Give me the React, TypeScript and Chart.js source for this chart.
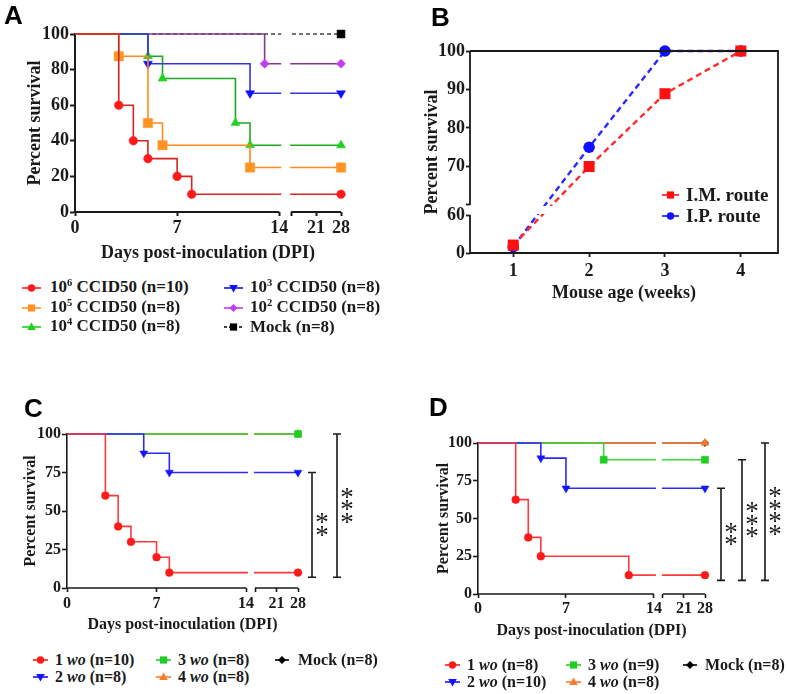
import React, { useEffect, useRef } from 'react';
import { Chart, registerables } from 'chart.js';
Chart.register(...registerables);

const SERIF = '"Liberation Serif", "Times New Roman", serif';
const SANS = '"Liberation Sans", Arial, sans-serif';
const INK = '#1a1a1a';

// ---------------- Panel A data (days post-inoculation, percent survival) ----------------
const A_DAYS_1E6 = [0, 3, 4, 5, 7, 8, 28];
const A_SURV_1E6 = [100, 60, 40, 30, 20, 10, 10];
const A_DAYS_1E5 = [0, 3, 5, 6, 12, 28];
const A_SURV_1E5 = [100, 87.5, 50, 37.5, 25, 25];
const A_DAYS_1E4 = [0, 5, 6, 11, 12, 28];
const A_SURV_1E4 = [100, 87.5, 75, 50, 37.5, 37.5];
const A_DAYS_1E3 = [0, 5, 12, 28];
const A_SURV_1E3 = [100, 83.3, 66.7, 66.7];
const A_DAYS_1E2 = [0, 13, 28];
const A_SURV_1E2 = [100, 83.3, 83.3];
const A_DAYS_MOCK = [0, 28];
const A_SURV_MOCK = [100, 100];
const A_Y_TICKS = [0, 20, 40, 60, 80, 100];

// ---------------- Panel B data ----------------
const B_WEEKS = [1, 2, 3, 4];
const B_IM = [12.5, 70, 88.9, 100];
const B_IP = [10, 75, 100, 100];
const B_Y_TICKS = [0, 60, 70, 80, 90, 100];

// ---------------- Panel C data ----------------
const C_DAYS_1WO = [0, 3, 4, 5, 7, 8, 28];
const C_SURV_1WO = [100, 60, 40, 30, 20, 10, 10];
const C_DAYS_2WO = [0, 6, 8, 28];
const C_SURV_2WO = [100, 87.5, 75, 75];
const C_DAYS_3WO = [0, 28];
const C_SURV_3WO = [100, 100];
const C_DAYS_4WO = [0, 28];
const C_SURV_4WO = [100, 100];
const C_DAYS_MOCK = [0, 28];
const C_SURV_MOCK = [100, 100];
const C_SIG_TOP = [75, 100];
const C_SIG_BOTTOM = [7, 7];
const C_SIG_LABEL = ['**', '***'];

// ---------------- Panel D data ----------------
const D_DAYS_1WO = [0, 3, 4, 5, 12, 28];
const D_SURV_1WO = [100, 62.5, 37.5, 25, 12.5, 12.5];
const D_DAYS_2WO = [0, 5, 7, 28];
const D_SURV_2WO = [100, 90, 70, 70];
const D_DAYS_3WO = [0, 10, 28];
const D_SURV_3WO = [100, 88.9, 88.9];
const D_DAYS_4WO = [0, 28];
const D_SURV_4WO = [100, 100];
const D_DAYS_MOCK = [0, 28];
const D_SURV_MOCK = [100, 100];
const D_SIG_TOP = [70, 88.9, 100];
const D_SIG_BOTTOM = [9, 9, 9];
const D_SIG_LABEL = ['**', '***', '****'];

const CD_Y_TICKS = [0, 25, 50, 75, 100];
const DPI_TICKS = [0, 7, 14, 21, 28];

const C_LABELS = ['1 wo (n=10)', '2 wo (n=8)', '3 wo (n=8)', '4 wo (n=8)', 'Mock (n=8)'];
const D_LABELS = ['1 wo (n=8)', '2 wo (n=10)', '3 wo (n=9)', '4 wo (n=8)', 'Mock (n=8)'];

type Box = { left: number; top: number; w: number; h: number };
type Area = { l: number; r: number; t: number; b: number };
type SeriesDef = {
  days: number[]; surv: number[]; line: string; point: string; style: string;
  rot?: number; r: number; dash?: number[]; width?: number;
};
type KMPanel = {
  canvas: Box; area: Area; series: SeriesDef[]; yTicks: number[];
  gap: number; s2: number; tickSize: number; titleSize: number;
  xPad: number; xTitlePad: number; yTitlePad: number; axisW: number; tickLen: number;
  sigTop?: number[]; sigBottom?: number[]; sigLabel?: string[]; sigOffset?: number[];
};

function kmConfig(p: KMPanel): any {
  const T = (d: number) => (d <= 14 ? d : 14 + p.gap + (d - 14) * p.s2);
  const xTickVals = [DPI_TICKS[0], DPI_TICKS[1], DPI_TICKS[2], 14 + p.gap, T(DPI_TICKS[3]), T(DPI_TICKS[4])];
  const xTickLabels = ['0', '7', '14', '', '21', '28'];
  const yw = p.area.l - p.canvas.left;
  const xh = p.canvas.top + p.canvas.h - p.area.b;
  const datasets = p.series.map((s) => ({
    data: s.days.map((d, i) => ({ x: T(d), y: s.surv[i] })),
    stepped: 'before',
    borderColor: s.line,
    borderWidth: s.width ?? 1.6,
    borderDash: s.dash ?? [],
    pointStyle: s.style,
    rotation: s.rot ?? 0,
    pointRadius: (c: any) => (c.dataIndex === 0 ? 0 : s.r),
    pointBackgroundColor: s.point,
    pointBorderColor: s.point,
    pointBorderWidth: 0.5,
    fill: false,
    clip: false,
  }));
  const extras = {
    id: 'kmExtras',
    afterDatasetsDraw(chart: any) {
      const ctx = chart.ctx;
      const xs = chart.scales.x;
      const ys = chart.scales.y;
      const ca = chart.chartArea;
      const x14 = xs.getPixelForValue(14);
      const x14b = xs.getPixelForValue(14 + p.gap);
      ctx.save();
      ctx.fillStyle = '#fff';
      ctx.fillRect(x14 + 2, ca.top - 8, x14b - x14 - 3, ca.bottom - ca.top + 5);
      ctx.strokeStyle = INK;
      ctx.lineWidth = p.axisW;
      ctx.beginPath();
      ctx.moveTo(ca.left - p.axisW / 2, ca.bottom);
      ctx.lineTo(x14, ca.bottom);
      ctx.moveTo(x14b, ca.bottom);
      ctx.lineTo(xs.getPixelForValue(T(28)), ca.bottom);
      ctx.stroke();
      if (p.sigTop && p.sigBottom && p.sigLabel && p.sigOffset) {
        ctx.font = `27px ${SERIF}`;
        ctx.fillStyle = INK;
        ctx.textAlign = 'center';
        ctx.textBaseline = 'alphabetic';
        const m = ctx.measureText('*');
        const off = (m.actualBoundingBoxAscent - m.actualBoundingBoxDescent) / 2;
        p.sigTop.forEach((top, i) => {
          const x = ca.right + p.sigOffset![i];
          const y1 = ys.getPixelForValue(top);
          const y2 = ys.getPixelForValue(p.sigBottom![i]);
          ctx.lineWidth = 1.6;
          ctx.beginPath();
          ctx.moveTo(x, y1); ctx.lineTo(x, y2);
          ctx.moveTo(x - 4, y1); ctx.lineTo(x + 4, y1);
          ctx.moveTo(x - 4, y2); ctx.lineTo(x + 4, y2);
          ctx.stroke();
          const n = p.sigLabel![i].length;
          const mid = (y1 + y2) / 2;
          for (let k = 0; k < n; k++) {
            const cy = mid + (k - (n - 1) / 2) * 12.5;
            ctx.fillText('*', x + 10, cy + off);
          }
        });
      }
      ctx.restore();
    },
  };
  const tickFont = { family: SERIF, size: p.tickSize, weight: 'bold' };
  const titleFont = { family: SERIF, size: p.titleSize, weight: 'bold' };
  return {
    type: 'line',
    data: { datasets },
    plugins: [extras],
    options: {
      animation: false,
      responsive: false,
      events: [],
      layout: {
        padding: {
          left: 0,
          top: p.area.t - p.canvas.top,
          right: p.canvas.left + p.canvas.w - p.area.r,
          bottom: 0,
        },
      },
      plugins: { legend: { display: false }, tooltip: { enabled: false } },
      scales: {
        x: {
          type: 'linear',
          min: 0,
          max: T(28),
          afterFit: (s: any) => { s.height = xh; },
          afterBuildTicks: (s: any) => { s.ticks = xTickVals.map((v) => ({ value: v })); },
          ticks: {
            autoSkip: false, maxRotation: 0, padding: p.xPad, color: INK, font: tickFont,
            callback: (_v: any, i: number) => xTickLabels[i],
          },
          grid: { drawOnChartArea: false, drawTicks: true, tickLength: p.tickLen, tickWidth: p.axisW, tickColor: INK },
          border: { display: false },
          title: { display: true, text: 'Days post-inoculation (DPI)', color: INK, font: titleFont, padding: { top: 0, bottom: p.xTitlePad } },
        },
        y: {
          type: 'linear',
          min: 0,
          max: 100,
          afterFit: (s: any) => { s.width = yw; },
          afterBuildTicks: (s: any) => { s.ticks = p.yTicks.map((v) => ({ value: v })); },
          ticks: { padding: 1, color: INK, font: tickFont },
          grid: { drawOnChartArea: false, drawTicks: true, tickLength: 5, tickWidth: p.axisW, tickColor: INK },
          border: { display: true, color: INK, width: p.axisW },
          title: { display: true, text: 'Percent survival', color: INK, font: titleFont, padding: { top: p.yTitlePad, bottom: 0 } },
        },
      },
    },
  };
}

const B_LOW = 0.1645;
const B_GAP = 2.6;
const TB = (v: number) => (v <= 60 ? v * B_LOW : 60 * B_LOW + B_GAP + (v - 60));

function bConfig(): any {
  const canvas = { left: 390, top: 0, w: 397, h: 310 };
  const area = { l: 470, r: 778, t: 51, b: 253 };
  const yVals = [TB(B_Y_TICKS[0]), TB(B_Y_TICKS[1]), TB(B_Y_TICKS[1]) + B_GAP, ...B_Y_TICKS.slice(2).map(TB)];
  const yLabels = ['0', '60', '', '70', '80', '90', '100'];
  const tickFont = { family: SERIF, size: 18, weight: 'bold' };
  const extras = {
    id: 'bExtras',
    afterDatasetsDraw(chart: any) {
      const ctx = chart.ctx;
      const ys = chart.scales.y;
      const ca = chart.chartArea;
      const yHi = ys.getPixelForValue(TB(60) + B_GAP);
      const yLo = ys.getPixelForValue(TB(60));
      ctx.save();
      ctx.fillStyle = '#fff';
      ctx.fillRect(ca.left + 1, yHi + 1, ca.right - ca.left - 2, yLo - yHi - 2);
      ctx.strokeStyle = INK;
      ctx.lineWidth = 1.8;
      ctx.beginPath();
      ctx.moveTo(ca.left, ca.top); ctx.lineTo(ca.right, ca.top);
      ctx.lineTo(ca.right, ca.bottom); ctx.lineTo(ca.left - 0.9, ca.bottom);
      ctx.moveTo(ca.left, ca.top); ctx.lineTo(ca.left, yHi);
      ctx.moveTo(ca.left, yLo); ctx.lineTo(ca.left, ca.bottom);
      ctx.stroke();
      ctx.restore();
    },
  };
  return {
    type: 'line',
    data: {
      datasets: [
        {
          data: B_WEEKS.map((w, i) => ({ x: w, y: TB(B_IM[i]) })),
          borderColor: '#FF2A2A', borderWidth: 2.4, borderDash: [6, 4],
          pointStyle: 'rect', pointRadius: 7.8, pointBackgroundColor: '#FF1010', pointBorderColor: '#FF1010', pointBorderWidth: 0,
          fill: false, clip: false,
        },
        {
          data: B_WEEKS.map((w, i) => ({ x: w, y: TB(B_IP[i]) })),
          borderColor: '#2A2AFF', borderWidth: 2.4, borderDash: [6, 4],
          pointStyle: 'circle', pointRadius: 5.8, pointBackgroundColor: '#1010FF', pointBorderColor: '#1010FF', pointBorderWidth: 0,
          fill: false, clip: false,
        },
      ],
    },
    plugins: [extras],
    options: {
      animation: false,
      responsive: false,
      events: [],
      layout: { padding: { left: 0, top: area.t - canvas.top, right: canvas.left + canvas.w - area.r, bottom: 0 } },
      plugins: { legend: { display: false }, tooltip: { enabled: false } },
      scales: {
        x: {
          type: 'linear', min: 0.43, max: 4.49,
          afterFit: (s: any) => { s.height = canvas.top + canvas.h - area.b; },
          afterBuildTicks: (s: any) => { s.ticks = B_WEEKS.map((v) => ({ value: v })); },
          ticks: { autoSkip: false, maxRotation: 0, padding: 4, color: INK, font: tickFont, callback: (v: any) => String(v) },
          grid: { drawOnChartArea: false, drawTicks: true, tickLength: 4, tickWidth: 1.8, tickColor: INK },
          border: { display: false },
          title: { display: true, text: 'Mouse age (weeks)', color: INK, font: tickFont, padding: { top: 0, bottom: 6.2 } },
        },
        y: {
          type: 'linear', min: 0, max: TB(100),
          afterFit: (s: any) => { s.width = area.l - canvas.left; },
          afterBuildTicks: (s: any) => { s.ticks = yVals.map((v) => ({ value: v })); },
          ticks: { padding: 1, color: INK, font: tickFont, callback: (_v: any, i: number) => yLabels[i] },
          grid: { drawOnChartArea: false, drawTicks: true, tickLength: 4, tickWidth: 1.8, tickColor: INK },
          border: { display: false },
          title: { display: true, text: 'Percent survival', color: INK, font: tickFont, padding: { top: 31.2, bottom: 0 } },
        },
      },
    },
  };
}

const A_PANEL: KMPanel = {
  canvas: { left: 0, top: 0, w: 390, h: 270 },
  area: { l: 75, r: 341, t: 34, b: 212 },
  series: [
    { days: A_DAYS_1E6, surv: A_SURV_1E6, line: '#D42424', point: '#FF1A1A', style: 'circle', r: 4.3 },
    { days: A_DAYS_1E5, surv: A_SURV_1E5, line: '#FF8A1E', point: '#FF9424', style: 'rect', r: 6.6 },
    { days: A_DAYS_1E3, surv: A_SURV_1E3, line: '#3434D8', point: '#1010FF', style: 'triangle', rot: 180, r: 5.2 },
    { days: A_DAYS_1E4, surv: A_SURV_1E4, line: '#1FA81F', point: '#1ED21E', style: 'triangle', r: 5.2 },
    { days: A_DAYS_1E2, surv: A_SURV_1E2, line: '#84388F', point: '#C23CF0', style: 'rectRot', r: 4.6 },
    { days: A_DAYS_MOCK, surv: A_SURV_MOCK, line: '#444', point: '#000', style: 'rect', r: 5.6, dash: [4, 3] },
  ],
  yTicks: A_Y_TICKS, gap: 0.82, s2: 0.244, tickSize: 18, titleSize: 18,
  xPad: 1.2, xTitlePad: 6.2, yTitlePad: 24.2, axisW: 2, tickLen: 4,
};

const C_PANEL: KMPanel = {
  canvas: { left: 0, top: 390, w: 390, h: 250 },
  area: { l: 67, r: 298, t: 434, b: 588 },
  series: [
    { days: C_DAYS_1WO, surv: C_SURV_1WO, line: '#FF3A3A', point: '#FF1A1A', style: 'circle', r: 3.9 },
    { days: C_DAYS_2WO, surv: C_SURV_2WO, line: '#2A2AFF', point: '#1414FF', style: 'triangle', rot: 180, r: 4.6 },
    { days: C_DAYS_3WO, surv: C_SURV_3WO, line: '#3AD83A', point: '#22CC22', style: 'rect', r: 5 },
    { days: C_DAYS_4WO, surv: C_SURV_4WO, line: '#FF8A3A', point: '#FF7A2A', style: 'triangle', r: 4.6 },
    { days: C_DAYS_MOCK, surv: C_SURV_MOCK, line: '#222', point: '#000', style: 'rectRot', r: 3.6 },
  ],
  yTicks: CD_Y_TICKS, gap: 0.7, s2: 0.24, tickSize: 16, titleSize: 16,
  xPad: 2.4, xTitlePad: 5.4, yTitlePad: 21.4, axisW: 1.6, tickLen: 4,
  sigTop: C_SIG_TOP, sigBottom: C_SIG_BOTTOM, sigLabel: C_SIG_LABEL, sigOffset: [14, 39],
};

const D_PANEL: KMPanel = {
  canvas: { left: 400, top: 390, w: 387, h: 260 },
  area: { l: 478, r: 705, t: 443, b: 594 },
  series: [
    { days: D_DAYS_1WO, surv: D_SURV_1WO, line: '#FF3A3A', point: '#FF1A1A', style: 'circle', r: 3.9 },
    { days: D_DAYS_2WO, surv: D_SURV_2WO, line: '#2A2AFF', point: '#1414FF', style: 'triangle', rot: 180, r: 4.6 },
    { days: D_DAYS_3WO, surv: D_SURV_3WO, line: '#3AD83A', point: '#22CC22', style: 'rect', r: 5 },
    { days: D_DAYS_4WO, surv: D_SURV_4WO, line: '#FF8A3A', point: '#FF7A2A', style: 'triangle', r: 4.6 },
    { days: D_DAYS_MOCK, surv: D_SURV_MOCK, line: '#222', point: '#000', style: 'rectRot', r: 3.6 },
  ],
  yTicks: CD_Y_TICKS, gap: 0.72, s2: 0.239, tickSize: 16, titleSize: 16,
  xPad: 1, xTitlePad: 9.4, yTitlePad: 34.4, axisW: 1.6, tickLen: 4,
  sigTop: D_SIG_TOP, sigBottom: D_SIG_BOTTOM, sigLabel: D_SIG_LABEL, sigOffset: [16, 37, 60],
};

function ChartCanvas({ box, make }: { box: Box; make: () => any }) {
  const ref = useRef<HTMLCanvasElement | null>(null);
  useEffect(() => {
    if (!ref.current) return;
    const chart = new Chart(ref.current, make());
    return () => chart.destroy();
  }, []);
  return (
    <canvas
      ref={ref}
      width={box.w}
      height={box.h}
      style={{ position: 'absolute', left: box.left, top: box.top, width: box.w, height: box.h }}
    />
  );
}

function Mark({ color, shape, dashed, w = 17 }: { color: string; shape: string; dashed?: boolean; w?: number }) {
  const c = w / 2;
  const cy = 6;
  let s: any = null;
  if (shape === 'circle') s = <circle cx={c} cy={cy} r={3.7} fill={color} />;
  else if (shape === 'rect') s = <rect x={c - 3.6} y={cy - 3.6} width={7.2} height={7.2} fill={color} />;
  else if (shape === 'tri') s = <polygon points={`${c},${cy - 4.5} ${c + 4.3},${cy + 3} ${c - 4.3},${cy + 3}`} fill={color} />;
  else if (shape === 'triDown') s = <polygon points={`${c},${cy + 4.5} ${c + 4.3},${cy - 3} ${c - 4.3},${cy - 3}`} fill={color} />;
  else if (shape === 'diamond') s = <polygon points={`${c},${cy - 4} ${c + 4},${cy} ${c},${cy + 4} ${c - 4},${cy}`} fill={color} />;
  return (
    <svg width={w} height={12} style={{ display: 'block', flex: 'none' }}>
      <line x1={0} y1={cy} x2={w} y2={cy} stroke={color} strokeWidth={1.6} strokeDasharray={dashed ? '3 2' : undefined} />
      {s}
    </svg>
  );
}

function LegendItem({ left, cy, size, gap, mark, children }: any) {
  return (
    <div
      style={{
        position: 'absolute', left, top: cy - 11, height: 22, display: 'flex', alignItems: 'center',
        gap, fontFamily: SERIF, fontWeight: 'bold', fontSize: size, color: INK, whiteSpace: 'nowrap', lineHeight: '22px',
      }}
    >
      {mark}
      <span>{children}</span>
    </div>
  );
}

const Sup = ({ children }: any) => (
  <span style={{ fontSize: '0.62em', position: 'relative', top: '-0.6em' }}>{children}</span>
);

function Letter({ left, top, children }: any) {
  return (
    <div style={{ position: 'absolute', left, top, fontFamily: SANS, fontWeight: 'bold', fontSize: 26, lineHeight: 1, color: '#000' }}>
      {children}
    </div>
  );
}

function WoLabel({ text }: { text: string }) {
  const parts = text.split(' wo ');
  if (parts.length < 2) return <>{text}</>;
  return (
    <>
      {parts[0]} <i>wo</i> {parts[1]}
    </>
  );
}

export default function App() {
  return (
    <div style={{ position: 'absolute', left: 0, top: 0, width: 787, height: 694, background: '#fff', overflow: 'hidden' }}>
      <ChartCanvas box={A_PANEL.canvas} make={() => kmConfig(A_PANEL)} />
      <ChartCanvas box={{ left: 390, top: 0, w: 397, h: 310 }} make={bConfig} />
      <ChartCanvas box={C_PANEL.canvas} make={() => kmConfig(C_PANEL)} />
      <ChartCanvas box={D_PANEL.canvas} make={() => kmConfig(D_PANEL)} />

      <Letter left={4} top={2}>A</Letter>
      <Letter left={431} top={4}>B</Letter>
      <Letter left={24} top={395}>C</Letter>
      <Letter left={429} top={394}>D</Letter>

      {/* Legend A */}
      <LegendItem left={22} cy={288} size={17} gap={9} mark={<Mark color="#FF1A1A" shape="circle" w={19} />}>10<Sup>6</Sup> CCID50 (n=10)</LegendItem>
      <LegendItem left={22} cy={308} size={17} gap={9} mark={<Mark color="#FF9424" shape="rect" w={19} />}>10<Sup>5</Sup> CCID50 (n=8)</LegendItem>
      <LegendItem left={22} cy={327} size={17} gap={9} mark={<Mark color="#1ED21E" shape="tri" w={19} />}>10<Sup>4</Sup> CCID50 (n=8)</LegendItem>
      <LegendItem left={224} cy={288} size={17} gap={7} mark={<Mark color="#1010FF" shape="triDown" w={19} />}>10<Sup>3</Sup> CCID50 (n=8)</LegendItem>
      <LegendItem left={224} cy={308} size={17} gap={7} mark={<Mark color="#C23CF0" shape="diamond" w={19} />}>10<Sup>2</Sup> CCID50 (n=8)</LegendItem>
      <LegendItem left={224} cy={327} size={17} gap={7} mark={<Mark color="#000" shape="rect" dashed w={19} />}>Mock (n=8)</LegendItem>

      {/* Legend B */}
      <LegendItem left={662} cy={195} size={19} gap={7} mark={<Mark color="#FF1010" shape="rect" w={17} />}>I.M. route</LegendItem>
      <LegendItem left={662} cy={216} size={19} gap={7} mark={<Mark color="#1010FF" shape="circle" w={17} />}>I.P. route</LegendItem>

      {/* Legend C */}
      <LegendItem left={33} cy={660} size={16} gap={7} mark={<Mark color="#FF1A1A" shape="circle" w={15} />}><WoLabel text={C_LABELS[0]} /></LegendItem>
      <LegendItem left={33} cy={677} size={16} gap={7} mark={<Mark color="#1414FF" shape="triDown" w={15} />}><WoLabel text={C_LABELS[1]} /></LegendItem>
      <LegendItem left={156} cy={660} size={16} gap={7} mark={<Mark color="#22CC22" shape="rect" w={15} />}><WoLabel text={C_LABELS[2]} /></LegendItem>
      <LegendItem left={156} cy={677} size={16} gap={7} mark={<Mark color="#FF7A2A" shape="tri" w={15} />}><WoLabel text={C_LABELS[3]} /></LegendItem>
      <LegendItem left={275} cy={660} size={16} gap={9} mark={<Mark color="#000" shape="diamond" w={14} />}>{C_LABELS[4]}</LegendItem>

      {/* Legend D */}
      <LegendItem left={445} cy={665} size={16} gap={7} mark={<Mark color="#FF1A1A" shape="circle" w={15} />}><WoLabel text={D_LABELS[0]} /></LegendItem>
      <LegendItem left={445} cy={682} size={16} gap={7} mark={<Mark color="#1414FF" shape="triDown" w={15} />}><WoLabel text={D_LABELS[1]} /></LegendItem>
      <LegendItem left={566} cy={665} size={16} gap={7} mark={<Mark color="#22CC22" shape="rect" w={15} />}><WoLabel text={D_LABELS[2]} /></LegendItem>
      <LegendItem left={566} cy={682} size={16} gap={7} mark={<Mark color="#FF7A2A" shape="tri" w={15} />}><WoLabel text={D_LABELS[3]} /></LegendItem>
      <LegendItem left={683} cy={665} size={16} gap={8} mark={<Mark color="#000" shape="diamond" w={14} />}>{D_LABELS[4]}</LegendItem>
    </div>
  );
}
